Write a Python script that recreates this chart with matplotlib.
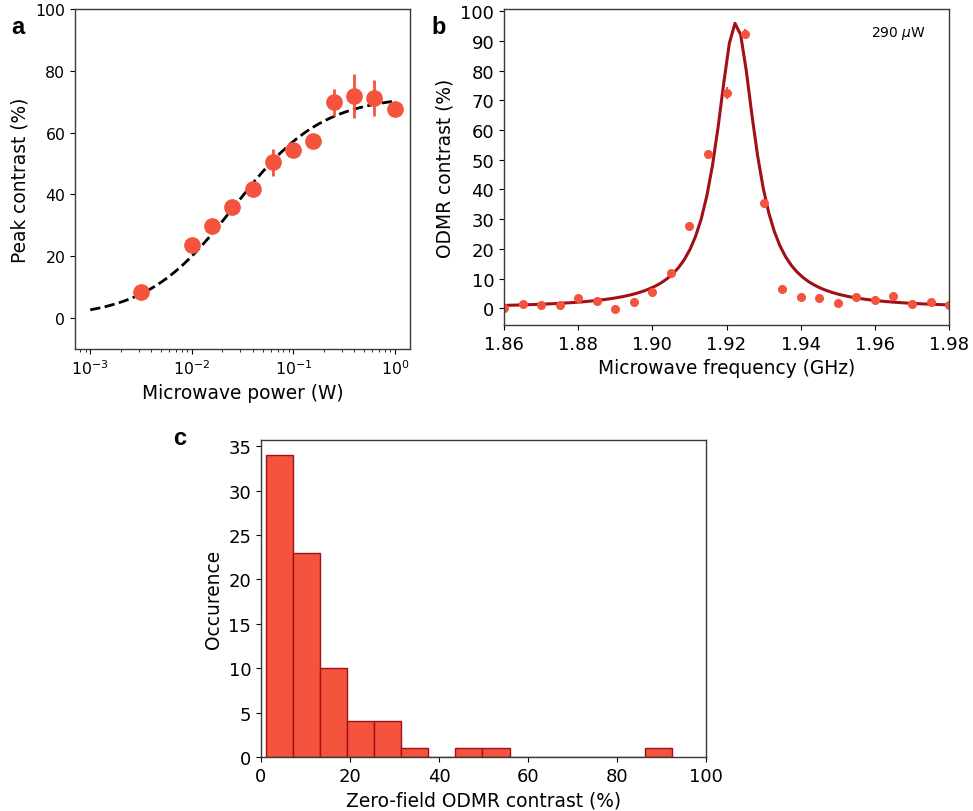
import numpy as np
import matplotlib
matplotlib.use('Agg')
import matplotlib.pyplot as plt

plt.rcParams['font.family'] = 'DejaVu Sans'
plt.rcParams['axes.edgecolor'] = '#3a3a3a'
plt.rcParams['axes.linewidth'] = 1.0

dot_red = '#f4533d'
fit_red = '#a30f16'

# panel a: peak contrast vs microwave power
power_w = [0.00316, 0.01, 0.0158, 0.0251, 0.0398, 0.0631, 0.1, 0.158, 0.251, 0.398, 0.631, 1.0]
peak_contrast = [8.4, 23.5, 29.9, 35.9, 41.8, 50.4, 54.5, 57.4, 69.8, 71.9, 71.1, 67.6]
peak_err = [1.0, 1.5, 1.5, 1.5, 1.5, 4.3, 2.0, 2.0, 4.3, 7.2, 5.8, 2.0]
# saturation fit parameters
sat_amp = 72.0
sat_power = 0.026

# panel b: ODMR spectrum at 290 uW
freq_ghz = [1.860, 1.865, 1.870, 1.875, 1.880, 1.885, 1.890, 1.895, 1.900, 1.905,
            1.910, 1.915, 1.920, 1.925, 1.930, 1.935, 1.940, 1.945, 1.950, 1.955,
            1.960, 1.965, 1.970, 1.975, 1.980]
odmr_contrast = [0.0, 1.5, 1.1, 1.2, 3.5, 2.6, -0.3, 2.2, 5.6, 12.0,
                 27.8, 51.9, 72.4, 92.4, 35.5, 6.6, 3.9, 3.3, 1.8, 3.8,
                 2.7, 4.0, 1.3, 2.0, 1.1]
odmr_err = [0.5, 0.5, 0.5, 0.5, 0.6, 0.5, 0.5, 0.5, 0.6, 0.6,
            0.7, 1.0, 2.0, 1.5, 0.8, 0.6, 0.5, 0.5, 0.5, 0.5,
            0.5, 0.5, 0.5, 0.5, 0.5]
# lorentzian fit parameters
lor_amp = 96.0
lor_center = 1.9225
lor_hwhm = 0.0063

# panel c: histogram of zero-field contrast
hist_counts = [34, 23, 10, 4, 4, 1, 0, 1, 1, 0, 0, 0, 0, 0, 1]
hist_min = 1.05
hist_max = 92.4

fig = plt.figure(figsize=(9.73, 8.12), dpi=100)

# --- a ---
ax1 = fig.add_axes([0.0771, 0.569, 0.3443, 0.4187])
p_fit = np.logspace(-3, 0, 200)
ax1.plot(p_fit, sat_amp * p_fit / (p_fit + sat_power), color='black', linestyle='--', linewidth=2)
ax1.errorbar(power_w, peak_contrast, yerr=peak_err, fmt='o', color=dot_red,
             markersize=11, elinewidth=2, capsize=0)
ax1.set_xscale('log')
ax1.set_ylim(-10, 100)
ax1.set_yticks([0, 20, 40, 60, 80, 100])
ax1.set_xlabel('Microwave power (W)', fontsize=13.4)
ax1.set_ylabel('Peak contrast (%)', fontsize=13.4)
ax1.tick_params(labelsize=11.3)

# --- b ---
ax2 = fig.add_axes([0.518, 0.5985, 0.4574, 0.3892])
f_fit = np.linspace(1.86, 1.98, 80)
ax2.plot(f_fit, lor_amp * lor_hwhm**2 / ((f_fit - lor_center)**2 + lor_hwhm**2),
         color=fit_red, linewidth=2.2)
ax2.errorbar(freq_ghz, odmr_contrast, yerr=odmr_err, fmt='o', color=dot_red,
             markersize=5.5, elinewidth=1.5, capsize=0)
ax2.set_xlim(1.86, 1.98)
ax2.set_xticks([1.86, 1.88, 1.90, 1.92, 1.94, 1.96, 1.98])
ax2.set_yticks(range(0, 101, 10))
ax2.set_xlabel('Microwave frequency (GHz)', fontsize=13.4)
ax2.set_ylabel('ODMR contrast (%)', fontsize=13.4)
ax2.tick_params(labelsize=13)
ax2.text(0.825, 0.915, '290 $\\mu$W', transform=ax2.transAxes, fontsize=10)

# --- c ---
ax3 = fig.add_axes([0.2682, 0.0665, 0.4574, 0.3904])
edges = np.linspace(hist_min, hist_max, len(hist_counts) + 1)
ax3.bar(edges[:-1], hist_counts, width=np.diff(edges), align='edge',
        color=dot_red, edgecolor=fit_red, linewidth=1)
ax3.set_xlim(0, 100)
ax3.set_xlabel('Zero-field ODMR contrast (%)', fontsize=13.4)
ax3.set_ylabel('Occurence', fontsize=13.4)
ax3.tick_params(labelsize=13)

# panel letters
for lbl, x, y in [('a', 0.012, 0.958), ('b', 0.443, 0.958), ('c', 0.178, 0.452)]:
    fig.text(x, y, lbl, fontsize=17, fontweight='bold', family='Liberation Sans')

fig.savefig('out.png', dpi=100)
